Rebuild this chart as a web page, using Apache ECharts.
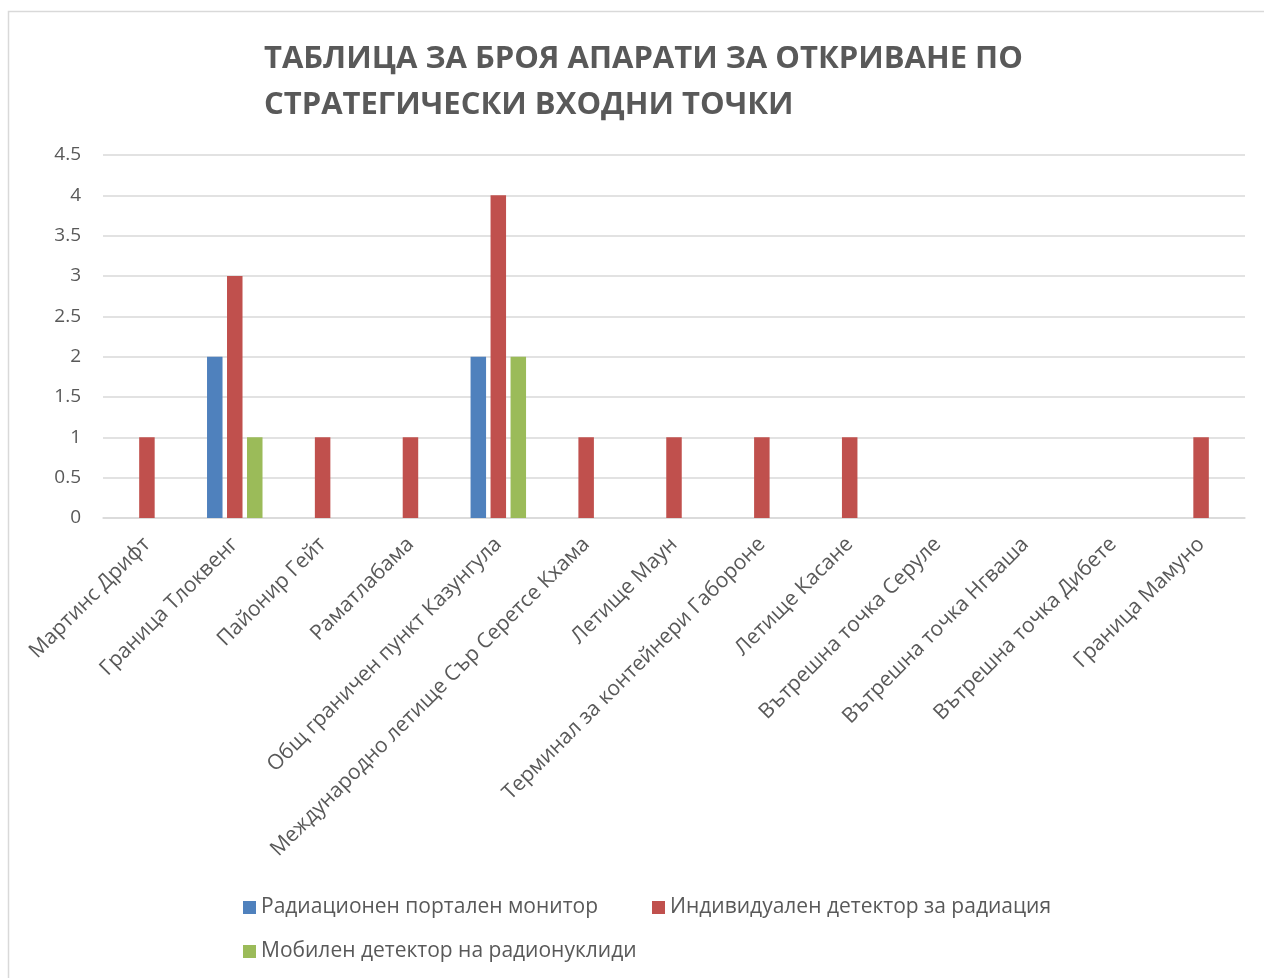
<!DOCTYPE html>
<html>
<head>
<meta charset="utf-8">
<script src="https://cdn.jsdelivr.net/npm/echarts@6/dist/echarts.min.js"></script>
<style>
html,body{margin:0;padding:0;background:#fff;}
#chart{width:1264px;height:978px;}
</style>
</head>
<body>
<div id="chart"></div>
<script>
const titleText = 'ТАБЛИЦА ЗА БРОЯ АПАРАТИ ЗА ОТКРИВАНЕ ПО\nСТРАТЕГИЧЕСКИ ВХОДНИ ТОЧКИ';
const categories = [
  'Мартинс Дрифт',
  'Граница Тлоквенг',
  'Пайонир Гейт',
  'Раматлабама',
  'Общ граничен пункт Казунгула',
  'Международно летище Сър Серетсе Кхама',
  'Летище Маун',
  'Терминал за контейнери Габороне',
  'Летище Касане',
  'Вътрешна точка Серуле',
  'Вътрешна точка Нгваша',
  'Вътрешна точка Дибете',
  'Граница Мамуно'
];
const seriesNames = [
  'Радиационен портален монитор',
  'Индивидуален детектор за радиация',
  'Мобилен детектор на радионуклиди'
];
const portalMonitor = [0, 2, 0, 0, 2, 0, 0, 0, 0, 0, 0, 0, 0];
const personalDetector = [1, 3, 1, 1, 4, 1, 1, 1, 1, 0, 0, 0, 1];
const mobileDetector = [0, 1, 0, 0, 2, 0, 0, 0, 0, 0, 0, 0, 0];
const yTicks = { min: 0, max: 4.5, interval: 0.5 };

const colors = ['#4F81BD', '#C0504D', '#9BBB59'];
const labelFont = 'Open Sans, Noto Sans, sans-serif';

const chart = echarts.init(document.getElementById('chart'), null, { renderer: 'canvas' });
const mk = (name, data, i) => ({
  name: name,
  type: 'bar',
  data: data,
  barWidth: 15.5,
  barGap: '29%',
  itemStyle: { color: colors[i] },
  emphasis: { disabled: true }
});
chart.setOption({
  animation: false,
  color: colors,
  title: {
    text: titleText,
    left: 259,
    top: 31,
    textStyle: {
      fontFamily: 'Open Sans, Noto Sans, sans-serif',
      fontWeight: 'bold',
      fontSize: 31,
      lineHeight: 46,
      color: '#595959'
    }
  },
  graphic: [{
    type: 'rect',
    shape: { x: 8.5, y: 11.5, width: 1400, height: 1100 },
    style: { fill: 'none', stroke: '#d9d9d9', lineWidth: 1.5 },
    silent: true
  }],
  legend: [{
    data: [seriesNames[0], seriesNames[1]],
    left: 243,
    top: 897,
    padding: 0,
    itemWidth: 13,
    itemHeight: 13,
    itemGap: 54,
    icon: 'rect',
    textStyle: { fontFamily: labelFont, fontSize: 21, color: '#595959', padding: 0 }
  }, {
    data: [seriesNames[2]],
    left: 243,
    top: 941,
    padding: 0,
    itemWidth: 13,
    itemHeight: 13,
    icon: 'rect',
    textStyle: { fontFamily: labelFont, fontSize: 21, color: '#595959', padding: 0 }
  }],
  grid: { left: 103, right: 19, top: 155, bottom: 460, containLabel: false },
  xAxis: {
    type: 'category',
    data: categories,
    axisLine: { show: true, lineStyle: { color: '#d9d9d9', width: 1.5 } },
    axisTick: { show: false },
    axisLabel: {
      interval: 0,
      rotate: 45,
      margin: 23,
      fontFamily: labelFont,
      fontSize: 21,
      color: '#595959'
    }
  },
  yAxis: {
    type: 'value',
    min: yTicks.min,
    max: yTicks.max,
    interval: yTicks.interval,
    axisLine: { show: false },
    axisTick: { show: false },
    splitLine: { lineStyle: { color: '#d9d9d9', width: 1.5 } },
    axisLabel: {
      margin: 22,
      fontFamily: labelFont,
      fontSize: 19,
      color: '#595959'
    }
  },
  series: [
    mk(seriesNames[0], portalMonitor, 0),
    mk(seriesNames[1], personalDetector, 1),
    mk(seriesNames[2], mobileDetector, 2)
  ]
});
</script>
</body>
</html>
